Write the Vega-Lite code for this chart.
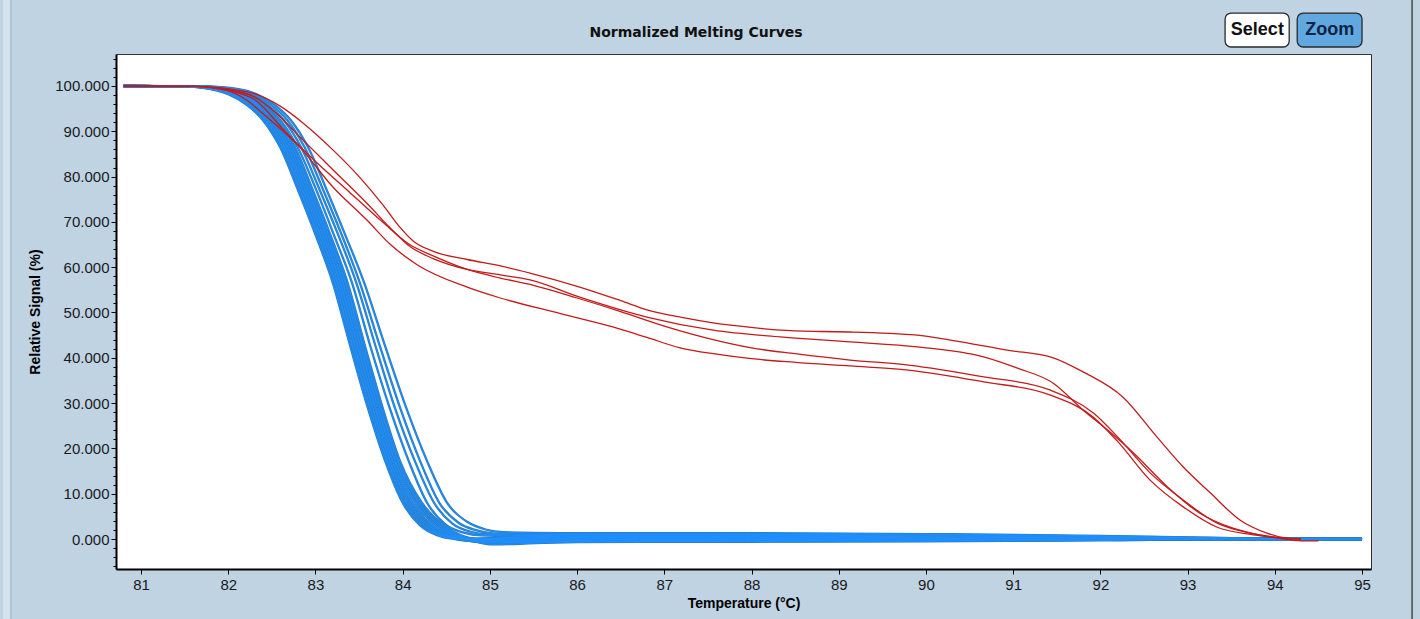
{
"$schema": "https://vega.github.io/schema/vega-lite/v6.json",
"width": 1255,
"height": 515,
"autosize": {"type": "none"},
"padding": {"left": 116, "top": 54, "right": 49, "bottom": 50},
"background": "#bfd3e3",
"config": {"view": {"fill": "#ffffff", "stroke": "#333333", "strokeWidth": 1}},
"data": {"values": [
{"c":"B01","t":80.8,"v":100},{"c":"B01","t":81.5,"v":99.9},{"c":"B01","t":81.8,"v":99.3},{"c":"B01","t":82.0,"v":98.2},{"c":"B01","t":82.2,"v":96.0},{"c":"B01","t":82.4,"v":92.4},{"c":"B01","t":82.6,"v":86.3},{"c":"B01","t":82.8,"v":77.0},{"c":"B01","t":83.0,"v":67.2},{"c":"B01","t":83.2,"v":56.5},{"c":"B01","t":83.4,"v":42.5},{"c":"B01","t":83.6,"v":29.0},{"c":"B01","t":83.8,"v":17.2},{"c":"B01","t":84.0,"v":8.0},{"c":"B01","t":84.2,"v":3.0},{"c":"B01","t":84.4,"v":0.8},{"c":"B01","t":84.6,"v":0.0},{"c":"B01","t":84.8,"v":-0.5},{"c":"B01","t":85.0,"v":-0.9},{"c":"B01","t":86,"v":-0.7},{"c":"B01","t":88,"v":-0.6},{"c":"B01","t":90,"v":-0.5},{"c":"B01","t":92,"v":-0.3},{"c":"B01","t":93.5,"v":0},{"c":"B01","t":95,"v":0},
{"c":"B02","t":80.8,"v":100},{"c":"B02","t":81.5,"v":99.9},{"c":"B02","t":81.82,"v":99.3},{"c":"B02","t":82.02,"v":98.2},{"c":"B02","t":82.22,"v":96.0},{"c":"B02","t":82.42,"v":92.4},{"c":"B02","t":82.62,"v":86.3},{"c":"B02","t":82.82,"v":77.0},{"c":"B02","t":83.02,"v":67.2},{"c":"B02","t":83.22,"v":56.5},{"c":"B02","t":83.42,"v":42.5},{"c":"B02","t":83.62,"v":29.0},{"c":"B02","t":83.82,"v":17.2},{"c":"B02","t":84.025,"v":8.0},{"c":"B02","t":84.23,"v":3.0},{"c":"B02","t":84.43,"v":0.8},{"c":"B02","t":84.63,"v":0.0},{"c":"B02","t":84.83,"v":-0.6},{"c":"B02","t":85.03,"v":-1.2},{"c":"B02","t":86,"v":-0.6},{"c":"B02","t":88,"v":-0.5},{"c":"B02","t":90,"v":-0.4},{"c":"B02","t":92,"v":-0.2},{"c":"B02","t":93.5,"v":0},{"c":"B02","t":95,"v":0},
{"c":"B03","t":80.8,"v":100},{"c":"B03","t":81.5,"v":99.9},{"c":"B03","t":81.83,"v":99.3},{"c":"B03","t":82.03,"v":98.2},{"c":"B03","t":82.23,"v":96.0},{"c":"B03","t":82.43,"v":92.4},{"c":"B03","t":82.63,"v":86.3},{"c":"B03","t":82.83,"v":77.0},{"c":"B03","t":83.03,"v":67.2},{"c":"B03","t":83.23,"v":56.5},{"c":"B03","t":83.43,"v":42.5},{"c":"B03","t":83.63,"v":29.0},{"c":"B03","t":83.83,"v":17.2},{"c":"B03","t":84.04,"v":8.0},{"c":"B03","t":84.25,"v":3.0},{"c":"B03","t":84.45,"v":0.8},{"c":"B03","t":84.65,"v":0.0},{"c":"B03","t":84.85,"v":-0.4},{"c":"B03","t":85.05,"v":-0.8},{"c":"B03","t":86,"v":-0.5},{"c":"B03","t":88,"v":-0.4},{"c":"B03","t":90,"v":-0.3},{"c":"B03","t":92,"v":-0.2},{"c":"B03","t":93.5,"v":0},{"c":"B03","t":95,"v":0},
{"c":"B04","t":80.8,"v":100},{"c":"B04","t":81.5,"v":99.9},{"c":"B04","t":81.85,"v":99.3},{"c":"B04","t":82.05,"v":98.2},{"c":"B04","t":82.25,"v":96.0},{"c":"B04","t":82.45,"v":92.4},{"c":"B04","t":82.65,"v":86.3},{"c":"B04","t":82.85,"v":77.0},{"c":"B04","t":83.05,"v":67.2},{"c":"B04","t":83.25,"v":56.5},{"c":"B04","t":83.45,"v":42.5},{"c":"B04","t":83.65,"v":29.0},{"c":"B04","t":83.85,"v":17.2},{"c":"B04","t":84.065,"v":8.0},{"c":"B04","t":84.28,"v":3.0},{"c":"B04","t":84.48,"v":0.8},{"c":"B04","t":84.68,"v":0.0},{"c":"B04","t":84.88,"v":-0.3},{"c":"B04","t":85.08,"v":-0.6},{"c":"B04","t":86,"v":-0.4},{"c":"B04","t":88,"v":-0.3},{"c":"B04","t":90,"v":-0.3},{"c":"B04","t":92,"v":-0.1},{"c":"B04","t":93.5,"v":0},{"c":"B04","t":95,"v":0},
{"c":"B05","t":80.8,"v":100},{"c":"B05","t":81.5,"v":99.9},{"c":"B05","t":81.86,"v":99.3},{"c":"B05","t":82.06,"v":98.2},{"c":"B05","t":82.26,"v":96.0},{"c":"B05","t":82.46,"v":92.4},{"c":"B05","t":82.66,"v":86.3},{"c":"B05","t":82.86,"v":77.0},{"c":"B05","t":83.06,"v":67.2},{"c":"B05","t":83.26,"v":56.5},{"c":"B05","t":83.46,"v":42.5},{"c":"B05","t":83.66,"v":29.0},{"c":"B05","t":83.86,"v":17.2},{"c":"B05","t":84.08,"v":8.0},{"c":"B05","t":84.3,"v":3.0},{"c":"B05","t":84.5,"v":0.8},{"c":"B05","t":84.7,"v":0.0},{"c":"B05","t":84.9,"v":-0.4},{"c":"B05","t":85.1,"v":-0.7},{"c":"B05","t":86,"v":-0.3},{"c":"B05","t":88,"v":-0.2},{"c":"B05","t":90,"v":-0.2},{"c":"B05","t":92,"v":-0.1},{"c":"B05","t":93.5,"v":0},{"c":"B05","t":95,"v":0},
{"c":"B06","t":80.8,"v":100},{"c":"B06","t":81.5,"v":99.9},{"c":"B06","t":81.88,"v":99.3},{"c":"B06","t":82.08,"v":98.2},{"c":"B06","t":82.28,"v":96.0},{"c":"B06","t":82.48,"v":92.4},{"c":"B06","t":82.68,"v":86.3},{"c":"B06","t":82.88,"v":77.0},{"c":"B06","t":83.08,"v":67.2},{"c":"B06","t":83.28,"v":56.5},{"c":"B06","t":83.48,"v":42.5},{"c":"B06","t":83.68,"v":29.0},{"c":"B06","t":83.88,"v":17.2},{"c":"B06","t":84.105,"v":8.0},{"c":"B06","t":84.33,"v":3.0},{"c":"B06","t":84.53,"v":0.8},{"c":"B06","t":84.73,"v":0.0},{"c":"B06","t":84.93,"v":-0.2},{"c":"B06","t":85.13,"v":-0.4},{"c":"B06","t":86,"v":-0.2},{"c":"B06","t":88,"v":-0.1},{"c":"B06","t":90,"v":-0.1},{"c":"B06","t":92,"v":0},{"c":"B06","t":93.5,"v":0},{"c":"B06","t":95,"v":0},
{"c":"B07","t":80.8,"v":100},{"c":"B07","t":81.5,"v":99.9},{"c":"B07","t":81.89,"v":99.3},{"c":"B07","t":82.09,"v":98.2},{"c":"B07","t":82.29,"v":96.0},{"c":"B07","t":82.49,"v":92.4},{"c":"B07","t":82.69,"v":86.3},{"c":"B07","t":82.89,"v":77.0},{"c":"B07","t":83.09,"v":67.2},{"c":"B07","t":83.29,"v":56.5},{"c":"B07","t":83.49,"v":42.5},{"c":"B07","t":83.69,"v":29.0},{"c":"B07","t":83.89,"v":17.2},{"c":"B07","t":84.115,"v":8.0},{"c":"B07","t":84.34,"v":3.0},{"c":"B07","t":84.54,"v":0.8},{"c":"B07","t":84.74,"v":0.0},{"c":"B07","t":84.94,"v":-0.2},{"c":"B07","t":85.14,"v":-0.3},{"c":"B07","t":86,"v":-0.1},{"c":"B07","t":88,"v":0},{"c":"B07","t":90,"v":0},{"c":"B07","t":92,"v":0},{"c":"B07","t":93.5,"v":0},{"c":"B07","t":95,"v":0},
{"c":"B08","t":80.8,"v":100},{"c":"B08","t":81.5,"v":99.9},{"c":"B08","t":81.91,"v":99.3},{"c":"B08","t":82.11,"v":98.2},{"c":"B08","t":82.31,"v":96.0},{"c":"B08","t":82.51,"v":92.4},{"c":"B08","t":82.71,"v":86.3},{"c":"B08","t":82.91,"v":77.0},{"c":"B08","t":83.11,"v":67.2},{"c":"B08","t":83.31,"v":56.5},{"c":"B08","t":83.51,"v":42.5},{"c":"B08","t":83.71,"v":29.0},{"c":"B08","t":83.91,"v":17.2},{"c":"B08","t":84.145,"v":8.0},{"c":"B08","t":84.38,"v":3.0},{"c":"B08","t":84.58,"v":0.8},{"c":"B08","t":84.78,"v":0.0},{"c":"B08","t":84.98,"v":-0.1},{"c":"B08","t":85.18,"v":-0.2},{"c":"B08","t":86,"v":0.1},{"c":"B08","t":88,"v":0.1},{"c":"B08","t":90,"v":0.1},{"c":"B08","t":92,"v":0},{"c":"B08","t":93.5,"v":0},{"c":"B08","t":95,"v":0},
{"c":"B09","t":80.8,"v":100},{"c":"B09","t":81.5,"v":99.9},{"c":"B09","t":81.92,"v":99.3},{"c":"B09","t":82.12,"v":98.2},{"c":"B09","t":82.32,"v":96.0},{"c":"B09","t":82.52,"v":92.4},{"c":"B09","t":82.72,"v":86.3},{"c":"B09","t":82.92,"v":77.0},{"c":"B09","t":83.12,"v":67.2},{"c":"B09","t":83.32,"v":56.5},{"c":"B09","t":83.52,"v":42.5},{"c":"B09","t":83.72,"v":29.0},{"c":"B09","t":83.92,"v":17.2},{"c":"B09","t":84.155,"v":8.0},{"c":"B09","t":84.39,"v":3.0},{"c":"B09","t":84.59,"v":0.8},{"c":"B09","t":84.79,"v":0.0},{"c":"B09","t":84.99,"v":0},{"c":"B09","t":85.19,"v":0},{"c":"B09","t":86,"v":0.2},{"c":"B09","t":88,"v":0.2},{"c":"B09","t":90,"v":0.1},{"c":"B09","t":92,"v":0.1},{"c":"B09","t":93.5,"v":0},{"c":"B09","t":95,"v":0},
{"c":"B10","t":80.8,"v":100},{"c":"B10","t":81.5,"v":99.9},{"c":"B10","t":81.94,"v":99.3},{"c":"B10","t":82.14,"v":98.2},{"c":"B10","t":82.34,"v":96.0},{"c":"B10","t":82.54,"v":92.4},{"c":"B10","t":82.74,"v":86.3},{"c":"B10","t":82.94,"v":77.0},{"c":"B10","t":83.14,"v":67.2},{"c":"B10","t":83.34,"v":56.5},{"c":"B10","t":83.54,"v":42.5},{"c":"B10","t":83.74,"v":29.0},{"c":"B10","t":83.94,"v":17.2},{"c":"B10","t":84.18,"v":8.0},{"c":"B10","t":84.42,"v":3.0},{"c":"B10","t":84.62,"v":0.8},{"c":"B10","t":84.82,"v":0.0},{"c":"B10","t":85.02,"v":0.1},{"c":"B10","t":85.22,"v":0.2},{"c":"B10","t":86,"v":0.3},{"c":"B10","t":88,"v":0.3},{"c":"B10","t":90,"v":0.2},{"c":"B10","t":92,"v":0.1},{"c":"B10","t":93.5,"v":0},{"c":"B10","t":95,"v":0},
{"c":"B11","t":80.8,"v":100},{"c":"B11","t":81.5,"v":99.9},{"c":"B11","t":81.95,"v":99.3},{"c":"B11","t":82.15,"v":98.2},{"c":"B11","t":82.35,"v":96.0},{"c":"B11","t":82.55,"v":92.4},{"c":"B11","t":82.75,"v":86.3},{"c":"B11","t":82.95,"v":77.0},{"c":"B11","t":83.15,"v":67.2},{"c":"B11","t":83.35,"v":56.5},{"c":"B11","t":83.55,"v":42.5},{"c":"B11","t":83.75,"v":29.0},{"c":"B11","t":83.95,"v":17.2},{"c":"B11","t":84.195,"v":8.0},{"c":"B11","t":84.44,"v":3.0},{"c":"B11","t":84.64,"v":0.8},{"c":"B11","t":84.84,"v":0.0},{"c":"B11","t":85.04,"v":0.2},{"c":"B11","t":85.24,"v":0.3},{"c":"B11","t":86,"v":0.4},{"c":"B11","t":88,"v":0.4},{"c":"B11","t":90,"v":0.3},{"c":"B11","t":92,"v":0.1},{"c":"B11","t":93.5,"v":0},{"c":"B11","t":95,"v":0},
{"c":"B12","t":80.8,"v":100},{"c":"B12","t":81.5,"v":99.9},{"c":"B12","t":81.97,"v":99.3},{"c":"B12","t":82.17,"v":98.2},{"c":"B12","t":82.37,"v":96.0},{"c":"B12","t":82.57,"v":92.4},{"c":"B12","t":82.77,"v":86.3},{"c":"B12","t":82.97,"v":77.0},{"c":"B12","t":83.17,"v":67.2},{"c":"B12","t":83.37,"v":56.5},{"c":"B12","t":83.57,"v":42.5},{"c":"B12","t":83.77,"v":29.0},{"c":"B12","t":83.97,"v":17.2},{"c":"B12","t":84.22,"v":8.0},{"c":"B12","t":84.47,"v":3.0},{"c":"B12","t":84.67,"v":0.8},{"c":"B12","t":84.87,"v":0.0},{"c":"B12","t":85.07,"v":0.2},{"c":"B12","t":85.27,"v":0.4},{"c":"B12","t":86,"v":0.5},{"c":"B12","t":88,"v":0.5},{"c":"B12","t":90,"v":0.4},{"c":"B12","t":92,"v":0.2},{"c":"B12","t":93.5,"v":0},{"c":"B12","t":95,"v":0},
{"c":"B13","t":80.8,"v":100},{"c":"B13","t":81.7,"v":99.9},{"c":"B13","t":82.0,"v":99.3},{"c":"B13","t":82.2,"v":98.2},{"c":"B13","t":82.4,"v":96.0},{"c":"B13","t":82.6,"v":92.4},{"c":"B13","t":82.8,"v":86.3},{"c":"B13","t":83.01,"v":77.0},{"c":"B13","t":83.21,"v":67.2},{"c":"B13","t":83.42,"v":56.5},{"c":"B13","t":83.63,"v":42.5},{"c":"B13","t":83.85,"v":29.0},{"c":"B13","t":84.07,"v":17.2},{"c":"B13","t":84.28,"v":8.0},{"c":"B13","t":84.49,"v":3.2},{"c":"B13","t":84.7,"v":1.4},{"c":"B13","t":84.9,"v":0.8},{"c":"B13","t":85.5,"v":0.6},{"c":"B13","t":88,"v":0.6},{"c":"B13","t":90,"v":0.5},{"c":"B13","t":92,"v":0.3},{"c":"B13","t":93.5,"v":0.1},{"c":"B13","t":95,"v":0},
{"c":"B14","t":80.8,"v":100},{"c":"B14","t":81.7,"v":99.9},{"c":"B14","t":82.04,"v":99.3},{"c":"B14","t":82.24,"v":98.2},{"c":"B14","t":82.44,"v":96.0},{"c":"B14","t":82.64,"v":92.4},{"c":"B14","t":82.84,"v":86.3},{"c":"B14","t":83.05,"v":77.0},{"c":"B14","t":83.26,"v":67.2},{"c":"B14","t":83.47,"v":56.5},{"c":"B14","t":83.69,"v":42.5},{"c":"B14","t":83.91,"v":29.0},{"c":"B14","t":84.14,"v":17.2},{"c":"B14","t":84.36,"v":8.0},{"c":"B14","t":84.57,"v":3.4},{"c":"B14","t":84.78,"v":1.6},{"c":"B14","t":84.98,"v":1.0},{"c":"B14","t":85.6,"v":0.8},{"c":"B14","t":88,"v":0.8},{"c":"B14","t":90,"v":0.7},{"c":"B14","t":92,"v":0.4},{"c":"B14","t":93.5,"v":0.1},{"c":"B14","t":95,"v":0},
{"c":"B15","t":80.8,"v":100},{"c":"B15","t":81.7,"v":99.9},{"c":"B15","t":82.08,"v":99.3},{"c":"B15","t":82.28,"v":98.2},{"c":"B15","t":82.48,"v":96.0},{"c":"B15","t":82.68,"v":92.4},{"c":"B15","t":82.88,"v":86.3},{"c":"B15","t":83.09,"v":77.0},{"c":"B15","t":83.3,"v":67.2},{"c":"B15","t":83.51,"v":56.5},{"c":"B15","t":83.74,"v":42.5},{"c":"B15","t":83.97,"v":29.0},{"c":"B15","t":84.2,"v":17.2},{"c":"B15","t":84.42,"v":8.0},{"c":"B15","t":84.64,"v":3.6},{"c":"B15","t":84.85,"v":1.9},{"c":"B15","t":85.05,"v":1.2},{"c":"B15","t":85.7,"v":1.0},{"c":"B15","t":88,"v":1.0},{"c":"B15","t":90,"v":0.9},{"c":"B15","t":92,"v":0.6},{"c":"B15","t":93.5,"v":0.2},{"c":"B15","t":95,"v":0},
{"c":"B16","t":80.8,"v":100},{"c":"B16","t":81.7,"v":99.9},{"c":"B16","t":82.12,"v":99.3},{"c":"B16","t":82.32,"v":98.2},{"c":"B16","t":82.52,"v":96.0},{"c":"B16","t":82.72,"v":92.4},{"c":"B16","t":82.92,"v":86.3},{"c":"B16","t":83.13,"v":77.0},{"c":"B16","t":83.34,"v":67.2},{"c":"B16","t":83.56,"v":56.5},{"c":"B16","t":83.8,"v":42.5},{"c":"B16","t":84.04,"v":29.0},{"c":"B16","t":84.28,"v":17.2},{"c":"B16","t":84.51,"v":8.0},{"c":"B16","t":84.74,"v":3.8},{"c":"B16","t":84.95,"v":2.1},{"c":"B16","t":85.15,"v":1.5},{"c":"B16","t":85.8,"v":1.3},{"c":"B16","t":88,"v":1.3},{"c":"B16","t":90,"v":1.1},{"c":"B16","t":92,"v":0.7},{"c":"B16","t":93.5,"v":0.2},{"c":"B16","t":95,"v":0},
{"c":"R1","t":80.8,"v":100},{"c":"R1","t":81.6,"v":99.9},{"c":"R1","t":82.0,"v":99.4},{"c":"R1","t":82.3,"v":98.3},{"c":"R1","t":82.6,"v":95.5},{"c":"R1","t":82.86,"v":91.8},{"c":"R1","t":83.2,"v":85.9},{"c":"R1","t":83.5,"v":80.0},{"c":"R1","t":83.78,"v":73.6},{"c":"R1","t":83.97,"v":68.8},{"c":"R1","t":84.12,"v":65.8},{"c":"R1","t":84.35,"v":63.5},{"c":"R1","t":84.74,"v":61.7},{"c":"R1","t":85.12,"v":60.3},{"c":"R1","t":85.46,"v":58.7},{"c":"R1","t":86.03,"v":55.6},{"c":"R1","t":86.5,"v":52.6},{"c":"R1","t":86.8,"v":50.6},{"c":"R1","t":87.2,"v":48.9},{"c":"R1","t":87.56,"v":47.7},{"c":"R1","t":88.0,"v":46.7},{"c":"R1","t":88.33,"v":46.1},{"c":"R1","t":88.8,"v":45.8},{"c":"R1","t":89.13,"v":45.7},{"c":"R1","t":89.9,"v":45.0},{"c":"R1","t":90.28,"v":43.9},{"c":"R1","t":90.93,"v":41.7},{"c":"R1","t":91.46,"v":40.0},{"c":"R1","t":91.8,"v":36.9},{"c":"R1","t":92.26,"v":31.3},{"c":"R1","t":92.65,"v":22.5},{"c":"R1","t":92.95,"v":15.9},{"c":"R1","t":93.26,"v":10.2},{"c":"R1","t":93.6,"v":4.2},{"c":"R1","t":93.91,"v":1.3},{"c":"R1","t":94.1,"v":0.3},{"c":"R1","t":94.3,"v":0},
{"c":"R2","t":80.8,"v":100},{"c":"R2","t":81.6,"v":99.9},{"c":"R2","t":82.0,"v":99.2},{"c":"R2","t":82.3,"v":97.6},{"c":"R2","t":82.55,"v":94.0},{"c":"R2","t":82.82,"v":88.8},{"c":"R2","t":83.2,"v":81.5},{"c":"R2","t":83.59,"v":74.1},{"c":"R2","t":83.86,"v":68.6},{"c":"R2","t":84.08,"v":64.6},{"c":"R2","t":84.35,"v":61.9},{"c":"R2","t":84.74,"v":59.5},{"c":"R2","t":85.12,"v":58.3},{"c":"R2","t":85.46,"v":57.2},{"c":"R2","t":86.03,"v":53.4},{"c":"R2","t":86.8,"v":49.0},{"c":"R2","t":87.56,"v":46.1},{"c":"R2","t":88.33,"v":44.6},{"c":"R2","t":89.13,"v":43.5},{"c":"R2","t":89.9,"v":42.4},{"c":"R2","t":90.66,"v":40.2},{"c":"R2","t":91.05,"v":37.7},{"c":"R2","t":91.46,"v":34.4},{"c":"R2","t":91.8,"v":28.5},{"c":"R2","t":92.08,"v":24.1},{"c":"R2","t":92.38,"v":19.0},{"c":"R2","t":92.77,"v":11.5},{"c":"R2","t":93.14,"v":5.7},{"c":"R2","t":93.52,"v":2.4},{"c":"R2","t":93.83,"v":0.9},{"c":"R2","t":94.1,"v":0.2},{"c":"R2","t":94.3,"v":0},
{"c":"R3","t":80.8,"v":100},{"c":"R3","t":81.6,"v":99.9},{"c":"R3","t":82.0,"v":99.0},{"c":"R3","t":82.3,"v":97.0},{"c":"R3","t":82.67,"v":89.6},{"c":"R3","t":83.02,"v":83.0},{"c":"R3","t":83.4,"v":76.4},{"c":"R3","t":83.78,"v":69.8},{"c":"R3","t":84.08,"v":65.0},{"c":"R3","t":84.35,"v":62.5},{"c":"R3","t":84.74,"v":59.5},{"c":"R3","t":85.12,"v":57.6},{"c":"R3","t":85.5,"v":56.0},{"c":"R3","t":86.0,"v":53.2},{"c":"R3","t":86.5,"v":50.2},{"c":"R3","t":87.0,"v":47.0},{"c":"R3","t":87.5,"v":44.3},{"c":"R3","t":88.0,"v":42.2},{"c":"R3","t":88.5,"v":40.9},{"c":"R3","t":89.13,"v":39.5},{"c":"R3","t":89.8,"v":38.4},{"c":"R3","t":90.66,"v":35.8},{"c":"R3","t":91.42,"v":32.9},{"c":"R3","t":91.92,"v":27.8},{"c":"R3","t":92.2,"v":22.5},{"c":"R3","t":92.57,"v":14.6},{"c":"R3","t":92.95,"v":8.6},{"c":"R3","t":93.34,"v":3.5},{"c":"R3","t":93.72,"v":1.3},{"c":"R3","t":94.0,"v":0.4},{"c":"R3","t":94.2,"v":0},
{"c":"R4","t":80.8,"v":100},{"c":"R4","t":81.6,"v":99.9},{"c":"R4","t":82.0,"v":98.9},{"c":"R4","t":82.2,"v":97.0},{"c":"R4","t":82.44,"v":93.2},{"c":"R4","t":82.82,"v":86.5},{"c":"R4","t":83.2,"v":77.7},{"c":"R4","t":83.59,"v":70.4},{"c":"R4","t":83.86,"v":65.0},{"c":"R4","t":84.17,"v":60.5},{"c":"R4","t":84.74,"v":55.6},{"c":"R4","t":85.12,"v":53.2},{"c":"R4","t":85.8,"v":49.8},{"c":"R4","t":86.41,"v":46.8},{"c":"R4","t":86.8,"v":44.5},{"c":"R4","t":87.18,"v":42.2},{"c":"R4","t":87.6,"v":40.8},{"c":"R4","t":88.0,"v":39.8},{"c":"R4","t":88.5,"v":39.0},{"c":"R4","t":89.13,"v":38.2},{"c":"R4","t":89.8,"v":37.3},{"c":"R4","t":90.66,"v":34.7},{"c":"R4","t":91.42,"v":31.8},{"c":"R4","t":91.92,"v":26.9},{"c":"R4","t":92.2,"v":21.5},{"c":"R4","t":92.57,"v":13.0},{"c":"R4","t":92.95,"v":7.1},{"c":"R4","t":93.34,"v":2.6},{"c":"R4","t":93.72,"v":1.0},{"c":"R4","t":94.0,"v":0.3},{"c":"R4","t":94.3,"v":-0.4},{"c":"R4","t":94.5,"v":-0.4}
]},
"layer": [
  {"transform": [{"filter": "indexof(datum.c, 'B') === 0"}], "mark": {"type": "line", "color": "#2b7cbf", "strokeWidth": 2.3, "interpolate": "monotone"},
   "encoding": {
    "x": {"field": "t", "type": "quantitative", "scale": {"domain": [80.713, 95.103], "nice": false, "zero": false},
      "axis": {"title": "Temperature (°C)", "values": [81,82,83,84,85,86,87,88,89,90,91,92,93,94,95], "tickCount": 40, "format": "d", "grid": false,
        "domainColor": "#000000", "domainWidth": 2, "tickColor": "#000000", "tickSize": 5, "labelPadding": 3,
        "labelFont": "Liberation Sans", "labelFontSize": 15, "labelColor": "#1a1a1a", "labelFlush": false, "labelOverlap": false,
        "titleFont": "Liberation Sans", "titleFontSize": 14, "titleFontWeight": "bold", "titleColor": "#000000", "titlePadding": 4}},
    "y": {"field": "v", "type": "quantitative", "scale": {"domain": [-6.62, 107.06], "nice": false, "zero": false},
      "axis": {"title": "Relative Signal (%)", "values": [-6,-4,-2,0,2,4,6,8,10,12,14,16,18,20,22,24,26,28,30,32,34,36,38,40,42,44,46,48,50,52,54,56,58,60,62,64,66,68,70,72,74,76,78,80,82,84,86,88,90,92,94,96,98,100,102,104,106],
        "tickCount": 80,
        "labelExpr": "datum.value % 10 === 0 ? format(datum.value, '.3f') : ''",
        "tickSize": {"condition": {"test": "datum.value % 10 === 0", "value": 5}, "value": 3},
        "grid": false, "domainColor": "#000000", "domainWidth": 2, "tickColor": "#000000", "labelPadding": 2,
        "labelFont": "Liberation Sans", "labelFontSize": 15, "labelColor": "#1a1a1a", "labelFlush": false, "labelOverlap": false,
        "titleFont": "Liberation Sans", "titleFontSize": 14, "titleFontWeight": "bold", "titleColor": "#000000", "titlePadding": 12}},
    "detail": {"field": "c"}}},
  {"transform": [{"filter": "indexof(datum.c, 'B') === 0"}], "mark": {"type": "line", "color": "#1f8fff", "strokeWidth": 1.0, "interpolate": "monotone"},
   "encoding": {"x": {"field": "t", "type": "quantitative"}, "y": {"field": "v", "type": "quantitative"}, "detail": {"field": "c"}}},
  {"transform": [{"filter": "indexof(datum.c, 'R') === 0"}], "mark": {"type": "line", "color": "#c41a1a", "strokeWidth": 1.3, "interpolate": "monotone"},
   "encoding": {"x": {"field": "t", "type": "quantitative"}, "y": {"field": "v", "type": "quantitative"}, "detail": {"field": "c"}}},
  {"data": {"values": [{}]}, "mark": {"type": "text", "text": "Normalized Melting Curves", "font": "DejaVu Sans", "fontSize": 14, "fontWeight": "bold", "color": "#111111"},
    "encoding": {"x": {"datum": 87.364, "type": "quantitative"}, "y": {"datum": 111.7, "type": "quantitative"}}},
  {"data": {"values": [{}]}, "mark": {"type": "rect", "fill": "#ffffff", "stroke": "#2a2a2a", "strokeWidth": 1.3, "cornerRadius": 6},
    "encoding": {"x": {"datum": 93.43, "type": "quantitative"}, "x2": {"datum": 94.165}, "y": {"datum": 116.1, "type": "quantitative"}, "y2": {"datum": 108.6}}},
  {"data": {"values": [{}]}, "mark": {"type": "rect", "fill": "#62a8e0", "stroke": "#2a2a2a", "strokeWidth": 1.3, "cornerRadius": 6},
    "encoding": {"x": {"datum": 94.257, "type": "quantitative"}, "x2": {"datum": 95.0}, "y": {"datum": 116.1, "type": "quantitative"}, "y2": {"datum": 108.6}}},
  {"data": {"values": [{}]}, "mark": {"type": "text", "text": "Select", "font": "Liberation Sans", "fontSize": 18, "fontWeight": "bold", "color": "#111111"},
    "encoding": {"x": {"datum": 93.8, "type": "quantitative"}, "y": {"datum": 112.35, "type": "quantitative"}}},
  {"data": {"values": [{}]}, "mark": {"type": "text", "text": "Zoom", "font": "Liberation Sans", "fontSize": 18, "fontWeight": "bold", "color": "#0d2445"},
    "encoding": {"x": {"datum": 94.63, "type": "quantitative"}, "y": {"datum": 112.35, "type": "quantitative"}}},
  {"data": {"values": [{}]}, "mark": {"type": "rule", "color": "#4a4a4a", "strokeWidth": 1.5},
    "encoding": {"x": {"datum": 95.574, "type": "quantitative"}, "y": {"datum": 119.2, "type": "quantitative"}, "y2": {"datum": -17.8}}},
  {"data": {"values": [{}]}, "mark": {"type": "rect", "fill": "#d6e2ec"},
    "encoding": {"x": {"datum": 79.418, "type": "quantitative"}, "x2": {"datum": 79.498}, "y": {"datum": 119.2, "type": "quantitative"}, "y2": {"datum": -17.8}}},
  {"data": {"values": [{}]}, "mark": {"type": "rule", "color": "#9fb4c6", "strokeWidth": 1},
    "encoding": {"x": {"datum": 79.509, "type": "quantitative"}, "y": {"datum": 119.2, "type": "quantitative"}, "y2": {"datum": -17.8}}}
]
}
